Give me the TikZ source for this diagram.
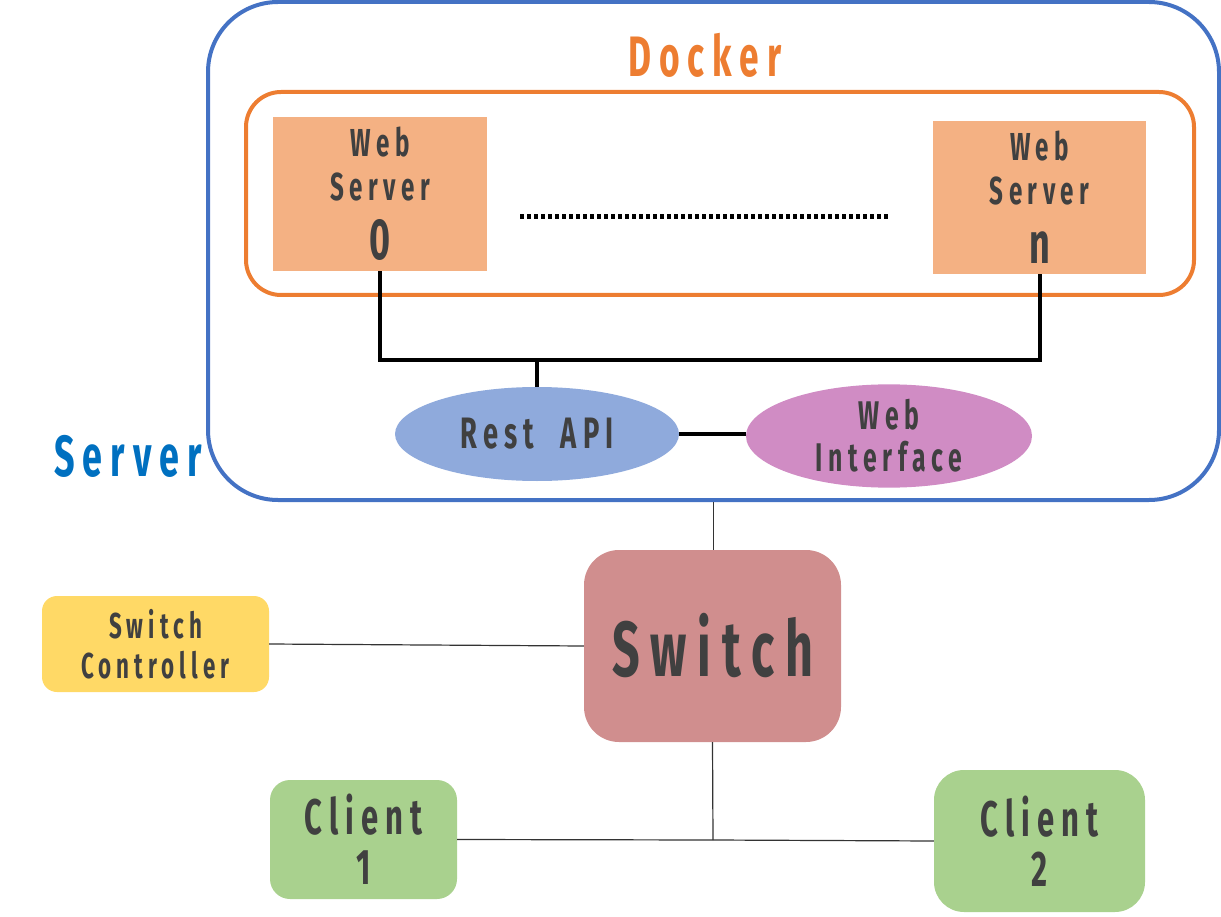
\documentclass[tikz,border=0pt]{standalone}
\usepackage{fontspec}
\usetikzlibrary{shapes.geometric}
\newfontfamily\cf[FakeStretch=0.62,LetterSpace=14]{Fira Sans}
\definecolor{srvblue}{HTML}{4472C4}
\definecolor{dkorange}{HTML}{ED7D31}
\definecolor{peach}{HTML}{F4B183}
\definecolor{restblue}{HTML}{8FAADC}
\definecolor{pinkish}{HTML}{D08CC4}
\definecolor{swred}{HTML}{D08E8E}
\definecolor{ctrlyellow}{HTML}{FFD966}
\definecolor{clgreen}{HTML}{A9D18E}
\definecolor{txt}{HTML}{404040}
\definecolor{srvtxt}{HTML}{0070C0}
\newcommand{\fs}[2]{\fontsize{#1}{#2}\selectfont}
\tikzset{
  base/.style={inner sep=0pt, text=txt, align=center},
  wsbox/.style={base, fill=peach, minimum width=214pt, minimum height=154pt, font=\cf\bfseries\fs{39}{44}},
  oval/.style={base, ellipse, minimum width=284pt, minimum height=94pt},
  rbox/.style={base, rounded corners=#1},
  thick conn/.style={line width=4pt, black},
  thin conn/.style={line width=1.2pt, black!80},
  dots/.style={line width=5pt, black, dash pattern=on 4pt off 3pt}
}
\begin{document}
\begin{tikzpicture}[x=1pt,y=-1pt]
\useasboundingbox (0,0) rectangle (1221,917);
% server container
\node[draw=srvblue, line width=4pt, rounded corners=70pt, minimum width=1011pt, minimum height=498pt, inner sep=0pt] (srv) at (713.5,251) {};
\node[font=\cf\bfseries\fs{58}{58}, text=srvtxt, inner sep=0pt] (srvlabel) at (128,456) {Server};
% docker
\node[font=\cf\bfseries\fs{57}{57}, text=dkorange, inner sep=0pt] (dockerlabel) at (705,55) {Docker};
\node[draw=dkorange, line width=4pt, rounded corners=35pt, minimum width=948pt, minimum height=203pt, inner sep=0pt] (docker) at (720,193.5) {};
% web servers
\node[wsbox] (ws0) at (380,194) {Web\\Server\\[15pt]{\fs{58}{58}0}};
\node[wsbox, minimum width=213pt, minimum height=153pt] (wsn) at (1039.5,197.5) {Web\\Server\\[15pt]{\fs{58}{58}n}};
\coordinate (dotA) at (520,217);
\coordinate (dotB) at (890,217);
\draw[dots] (dotA) -- (dotB);
% rest api, web interface
\node[oval, fill=restblue, font=\cf\bfseries\fs{44}{44}] (rest) at (537,434) {Rest\hspace{14pt} API};
\node[oval, fill=pinkish, minimum width=286pt, font=\cf\bfseries\fs{40}{42}] (webif) at (889,436) {Web\\Interface};
\coordinate (bus) at (0,360);
\draw[thick conn] (ws0.south) -- (ws0.south |- bus) -- (wsn.south |- bus) -- (wsn.south);
\draw[thick conn] (rest.north) -- (rest.north |- bus);
\draw[thick conn] (rest.east) -- (webif.west |- rest.east);
% switch
\node[rbox=35pt, fill=swred, minimum width=257pt, minimum height=192pt, font=\cf\bfseries\fs{78}{78}] (sw) at (712.5,646) {Switch};
\draw[thin conn] (srv.south) -- (srv.south |- sw.north);
% switch controller
\node[rbox=15pt, fill=ctrlyellow, minimum width=227pt, minimum height=96pt, font=\cf\bfseries\fs{36}{40}] (ctrl) at (155.5,644) {Switch\\Controller};
\draw[thin conn] (ctrl.east) -- (sw.west);
% clients
\node[rbox=20pt, fill=clgreen, minimum width=187pt, minimum height=119pt, font=\cf\bfseries\fs{50}{50}] (c1) at (363.5,839.5) {Client\\1};
\node[rbox=30pt, fill=clgreen, minimum width=211pt, minimum height=142pt, font=\cf\bfseries\fs{50}{50}] (c2) at (1039.5,841) {Client\\2};
\coordinate (jn) at (713,840);
\draw[thin conn] (sw.south) -- (jn);
\draw[thin conn] (c1.east) -- (jn) -- (c2.west);
\end{tikzpicture}
\end{document}
